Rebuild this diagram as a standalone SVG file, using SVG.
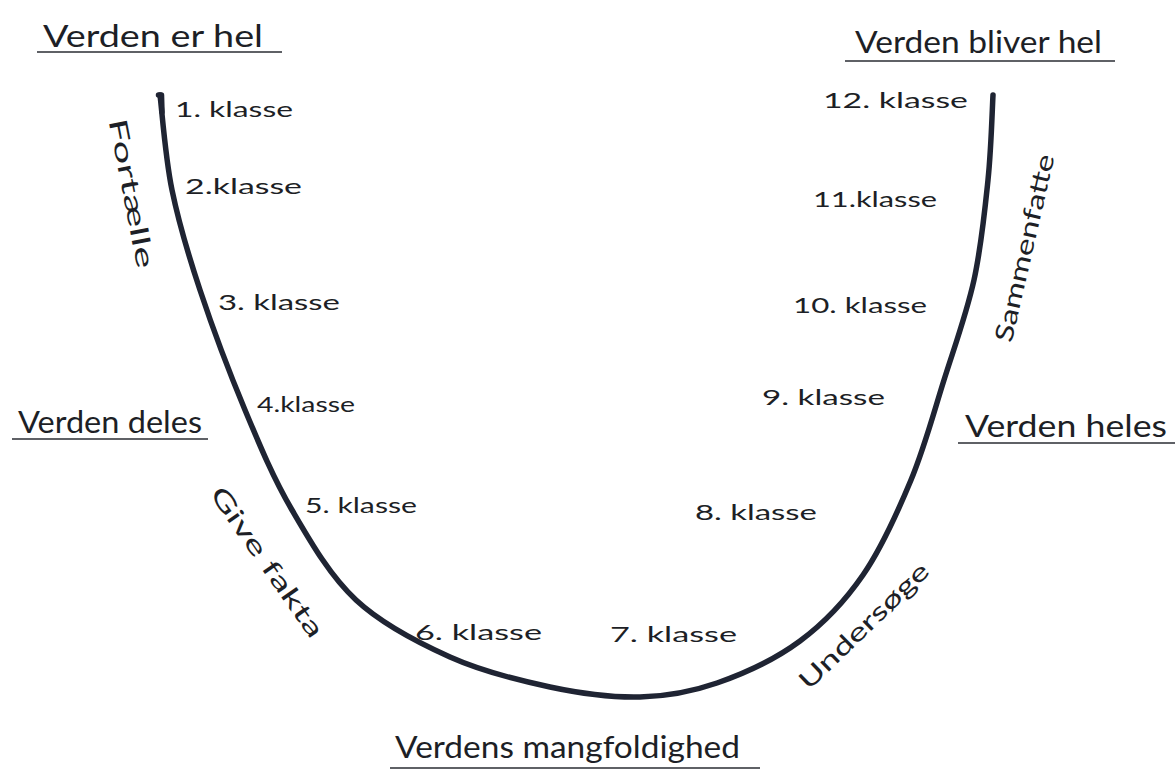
<svg xmlns="http://www.w3.org/2000/svg" width="1175" height="778" viewBox="0 0 1175 778">
<style>
.h{font-family:Lato,"Open Sans","Liberation Sans",sans-serif;font-weight:400;font-size:30px;fill:#1d1f26}
.k{font-family:Lato,"Open Sans","Liberation Sans",sans-serif;font-weight:400;font-size:22px;fill:#1d1f26}
.v{font-family:Lato,"Open Sans","Liberation Sans",sans-serif;font-weight:400;font-size:25px;fill:#1d1f26}
.u{stroke:#2a2c33;stroke-width:1.6;fill:none}
.curve{stroke:#1f2433;stroke-width:5.5;fill:none;stroke-linecap:round;stroke-linejoin:round}
</style>
<rect width="1175" height="778" fill="#ffffff"/>
<g id="connectors">
<path class="curve" d="M160,95 C162,110.8 165.3,157.5 172,190 C178.7,222.5 187.8,253.3 200,290 C212.2,326.7 229.7,373.3 245,410 C260.3,446.7 273.5,478.3 292,510 C310.5,541.7 329.7,575.5 356,600 C382.3,624.5 417.7,642.5 450,657 C482.3,671.5 518.3,680.3 550,687 C581.7,693.7 612.2,697.7 640,697 C667.8,696.3 690.3,692.3 717,683 C743.7,673.7 775.7,659 800,641 C824.3,623 844.5,601.8 863,575 C881.5,548.2 897.5,512.5 911,480 C924.5,447.5 933.5,413.3 944,380 C954.5,346.7 966.7,313.3 974,280 C981.3,246.7 984.8,210.8 988,180 C991.2,149.2 992.2,109.2 993,95"/>
<path class="curve" stroke-width="3" d="M158.5,95 L161.5,95 L162,112"/>
</g>
<g id="h-er-hel"><text class="h" x="43" y="47" textLength="220" lengthAdjust="spacingAndGlyphs">Verden er hel</text><line class="u" x1="37" y1="52" x2="282" y2="52"/></g>
<g id="h-bliver-hel"><text class="h" x="855" y="53" textLength="247" lengthAdjust="spacingAndGlyphs">Verden bliver hel</text><line class="u" x1="845" y1="61" x2="1115" y2="61"/></g>
<g id="h-deles"><text class="h" x="18" y="433" textLength="184" lengthAdjust="spacingAndGlyphs">Verden deles</text><line class="u" x1="12" y1="439" x2="208" y2="439"/></g>
<g id="h-heles"><text class="h" x="965" y="437" textLength="202" lengthAdjust="spacingAndGlyphs">Verden heles</text><line class="u" x1="958" y1="443" x2="1175" y2="443"/></g>
<g id="h-mangfoldighed"><text class="h" x="395" y="758" textLength="345" lengthAdjust="spacingAndGlyphs">Verdens mangfoldighed</text><line class="u" x1="390" y1="768" x2="760" y2="768"/></g>
<g id="k1"><text class="k" x="175" y="117" textLength="118" lengthAdjust="spacingAndGlyphs">1. klasse</text></g>
<g id="k2"><text class="k" x="185" y="194" textLength="117" lengthAdjust="spacingAndGlyphs">2.klasse</text></g>
<g id="k3"><text class="k" x="218" y="310" textLength="122" lengthAdjust="spacingAndGlyphs">3. klasse</text></g>
<g id="k4"><text class="k" x="257" y="412" textLength="98" lengthAdjust="spacingAndGlyphs">4.klasse</text></g>
<g id="k5"><text class="k" x="305" y="513" textLength="112" lengthAdjust="spacingAndGlyphs">5. klasse</text></g>
<g id="k6"><text class="k" x="415" y="640" textLength="127" lengthAdjust="spacingAndGlyphs">6. klasse</text></g>
<g id="k7"><text class="k" x="610" y="642" textLength="127" lengthAdjust="spacingAndGlyphs">7. klasse</text></g>
<g id="k8"><text class="k" x="695" y="520" textLength="122" lengthAdjust="spacingAndGlyphs">8. klasse</text></g>
<g id="k9"><text class="k" x="762" y="405" textLength="123" lengthAdjust="spacingAndGlyphs">9. klasse</text></g>
<g id="k10"><text class="k" x="793" y="313" textLength="134" lengthAdjust="spacingAndGlyphs">10. klasse</text></g>
<g id="k11"><text class="k" x="813" y="207" textLength="124" lengthAdjust="spacingAndGlyphs">11.klasse</text></g>
<g id="k12"><text class="k" x="823" y="108" textLength="145" lengthAdjust="spacingAndGlyphs">12. klasse</text></g>
<g id="v-fortaelle"><text class="v" text-anchor="middle" transform="translate(123,195) rotate(79)" textLength="152" lengthAdjust="spacingAndGlyphs">Fortælle</text></g>
<g id="v-sammenfatte"><text class="v" text-anchor="middle" transform="translate(1033,250) rotate(-77)" textLength="192" lengthAdjust="spacingAndGlyphs">Sammenfatte</text></g>
<g id="v-give-fakta"><text class="v" text-anchor="middle" transform="translate(260,567) rotate(55)" textLength="178" lengthAdjust="spacingAndGlyphs">Give fakta</text></g>
<g id="v-undersoge"><text class="v" text-anchor="middle" transform="translate(870,632) rotate(-44)" textLength="170" lengthAdjust="spacingAndGlyphs">Undersøge</text></g>
</svg>
